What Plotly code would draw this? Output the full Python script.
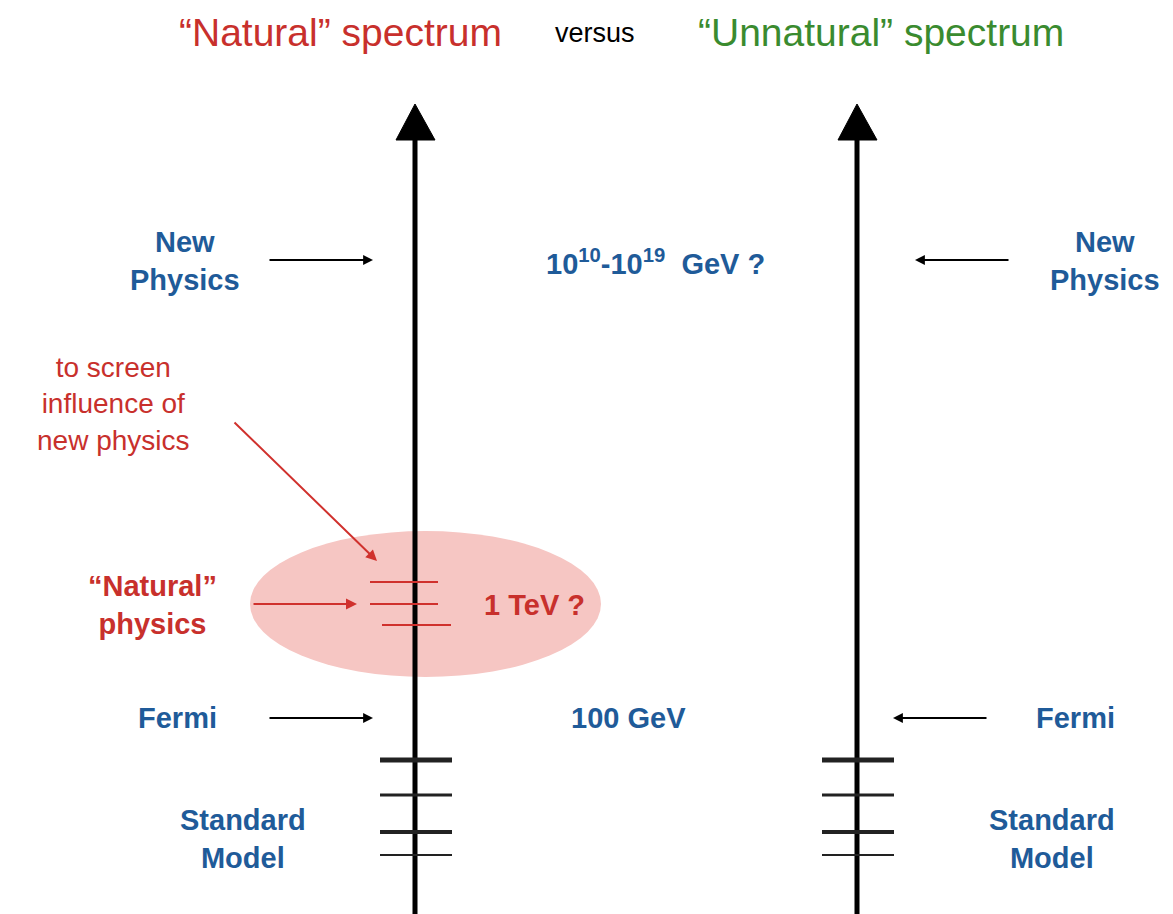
import plotly.graph_objects as go

W, H = 1173, 914

# ---- diagram data (pixel-space positions of the energy scale picture) ----
axis_x = [415, 857]            # the two vertical energy axes
axis_bottom, axis_top = 914, 104
sm_levels_y = [760, 795, 832, 855]      # Standard Model levels
sm_levels_w = [5, 3, 4, 2]
natural_levels_y = [582, 604, 625]      # "Natural" physics levels near 1 TeV
natural_levels_x0 = [370, 370, 382]
natural_levels_x1 = [438, 438, 451]

BLUE = "#1f5b99"
RED = "#c8302c"
GREEN = "#3a8b2f"
PINK = "#f6c6c3"
FONT = "Liberation Sans, Arial, Helvetica, sans-serif"

fig = go.Figure()
shapes = []
annotations = []

# ellipse highlighting natural physics
shapes.append(dict(type="circle", xref="x", yref="y", x0=250, x1=601, y0=531, y1=677,
                   fillcolor=PINK, line=dict(width=0), layer="below"))

# axes with arrowheads
for ax in axis_x:
    shapes.append(dict(type="line", xref="x", yref="y", x0=ax, x1=ax, y0=axis_bottom, y1=axis_top + 30,
                       line=dict(color="black", width=5)))
    shapes.append(dict(type="path", xref="x", yref="y",
                       path=f"M {ax-19} 140 L {ax} {axis_top} L {ax+20} 140 Z",
                       fillcolor="black", line=dict(color="black", width=1)))
    # standard model levels
    for y, w in zip(sm_levels_y, sm_levels_w):
        shapes.append(dict(type="line", xref="x", yref="y", x0=ax - 35, x1=ax + 37, y0=y, y1=y,
                           line=dict(color="#222222", width=w)))

# natural physics levels
for y, x0, x1 in zip(natural_levels_y, natural_levels_x0, natural_levels_x1):
    shapes.append(dict(type="line", xref="x", yref="y", x0=x0, x1=x1, y0=y, y1=y,
                       line=dict(color="#d0312d", width=2)))


def text(x, y, s, color, size, bold=False):
    if bold:
        s = "<b>" + s + "</b>"
    annotations.append(dict(x=x, y=y, xref="x", yref="y", text=s, showarrow=False,
                            xanchor="center", yanchor="middle",
                            font=dict(family=FONT, size=size, color=color)))


def arrow(x, y, axx, ayy, color="black", width=1.8):
    annotations.append(dict(x=x, y=y, ax=axx, ay=ayy, xref="x", yref="y", axref="x", ayref="y",
                            text="", showarrow=True, arrowhead=2, arrowsize=1.1,
                            arrowwidth=width, arrowcolor=color))


# titles
text(340, 32, "“Natural” spectrum", RED, 39)
text(595, 33, "versus", "black", 27)
text(881, 32, "“Unnatural” spectrum", GREEN, 39)

BS = 29
# left side labels
text(185, 261, "New<br>Physics", BLUE, BS, bold=True)
arrow(373, 260, 268, 260)
text(655, 262, "10<sup>10</sup>-10<sup>19</sup>  GeV ?", BLUE, BS, bold=True)

text(113, 404, "to screen<br>influence of<br>new physics", RED, 28)
arrow(377, 561, 233, 421, color="#d0312d", width=2)

text(152, 605, "“Natural”<br>physics", RED, BS, bold=True)
arrow(357, 604, 252, 604, color="#d0312d", width=2)
text(534, 605, "1 TeV ?", RED, BS, bold=True)

text(177, 718, "Fermi", BLUE, BS, bold=True)
arrow(373, 718, 268, 718)
text(628, 718, "100 GeV", BLUE, BS, bold=True)

text(243, 839, "Standard<br>Model", BLUE, BS, bold=True)

# right side labels
text(1105, 261, "New<br>Physics", BLUE, BS, bold=True)
arrow(915, 260, 1010, 260)
text(1075, 718, "Fermi", BLUE, BS, bold=True)
arrow(893, 718, 988, 718)
text(1052, 839, "Standard<br>Model", BLUE, BS, bold=True)

fig.update_layout(
    width=W, height=H, margin=dict(l=0, r=0, t=0, b=0),
    paper_bgcolor="white", plot_bgcolor="white",
    xaxis=dict(range=[0, W], visible=False, fixedrange=True),
    yaxis=dict(range=[H, 0], visible=False, fixedrange=True),
    shapes=shapes, annotations=annotations, showlegend=False,
)

fig.write_html("out.html", post_script="document.body.style.margin='0';",
               config={"displayModeBar": False})
